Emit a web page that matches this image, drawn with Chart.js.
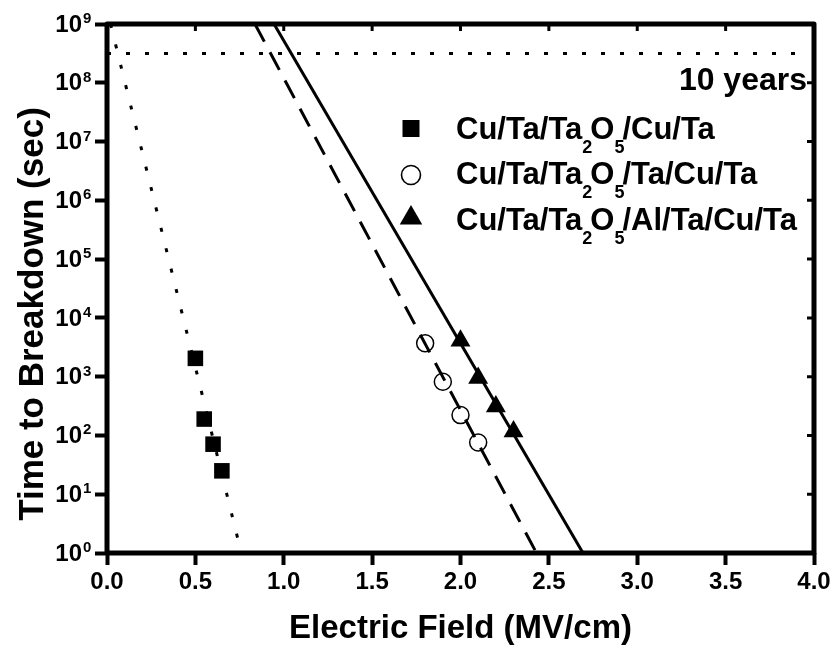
<!DOCTYPE html>
<html><head><meta charset="utf-8">
<script src="https://cdn.jsdelivr.net/npm/chart.js@4.4.1/dist/chart.umd.min.js"></script>
<style>html,body{margin:0;padding:0;background:#fff}#wrap{width:837px;height:651px}</style>
</head><body><div id="wrap"><canvas id="c" width="837" height="651"></canvas></div>
<script>
const FONT = '"Liberation Sans", Arial, Helvetica, sans-serif';

// ---- measured points ----
const sqField = [0.50, 0.55, 0.60, 0.65];
const sqTime  = [2050, 190, 71, 25];
const ciField = [1.80, 1.90, 2.00, 2.10];
const ciTime  = [3700, 820, 222, 76];
const trField = [2.00, 2.10, 2.20, 2.30];
const trTime  = [4100, 950, 310, 117];

// ---- fitted lines (end points) ----
const fitSqField = [0.02, 0.76];
const fitSqTime  = [1e9, 1];
const fitCiField = [0.837, 2.43];
const fitCiTime  = [1e9, 1];
const fitTrField = [0.945, 2.693];
const fitTrTime  = [1e9, 1];
const tenYearsField = [0, 3.9];
const tenYearsTime  = [3.15e8, 3.15e8];

// ---- ticks / labels ----
const xTickValues = [0, 0.5, 1, 1.5, 2, 2.5, 3, 3.5, 4];
const yExponents = [0, 1, 2, 3, 4, 5, 6, 7, 8, 9];
const legendLabels = ['Cu/Ta/Ta_2O_5/Cu/Ta', 'Cu/Ta/Ta_2O_5/Ta/Cu/Ta', 'Cu/Ta/Ta_2O_5/Al/Ta/Cu/Ta'];
const xTitle = 'Electric Field (MV/cm)';
const yTitle = 'Time to Breakdown (sec)';
const tenYearsLabel = '10 years';

const pts = (xs, ys) => xs.map((x, i) => ({x: x, y: ys[i]}));

function richText(ctx, str, x, y, size, subSize, drop) {
  const parts = str.split(/(_\d)/).filter(p => p.length);
  for (const p of parts) {
    if (p[0] === '_') {
      ctx.font = 'bold ' + subSize + 'px ' + FONT;
      ctx.fillText(p[1], x, y + drop);
      x += ctx.measureText(p[1]).width * 0.8;
    } else {
      ctx.font = 'bold ' + size + 'px ' + FONT;
      ctx.fillText(p, x, y);
      x += ctx.measureText(p).width;
    }
  }
}

const decorPlugin = {
  id: 'decor',
  afterDraw(chart) {
    const ctx = chart.ctx;
    const a = chart.chartArea;
    const xs = chart.scales.x, ys = chart.scales.y;
    ctx.save();
    ctx.fillStyle = '#000';
    ctx.strokeStyle = '#000';
    // frame
    ctx.lineWidth = 5;
    ctx.lineJoin = 'round';
    ctx.strokeRect(a.left, a.top, a.right - a.left, a.bottom - a.top);
    // mirror ticks
    ctx.lineWidth = 3;
    ctx.beginPath();
    for (const v of xTickValues) {
      const px = xs.getPixelForValue(v);
      ctx.moveTo(px, a.top); ctx.lineTo(px, a.top + 7);
    }
    for (const e of yExponents) {
      const py = ys.getPixelForValue(Math.pow(10, e));
      ctx.moveTo(a.right, py); ctx.lineTo(a.right - 7, py);
    }
    ctx.stroke();
    // y tick labels 10^n
    for (const e of yExponents) {
      const py = ys.getPixelForValue(Math.pow(10, e));
      ctx.font = 'bold 24px ' + FONT;
      ctx.textAlign = 'right';
      ctx.textBaseline = 'middle';
      ctx.fillText('10', 82, py + 1);
      ctx.font = 'bold 15px ' + FONT;
      ctx.textAlign = 'left';
      ctx.textBaseline = 'alphabetic';
      ctx.fillText(String(e), 83, py - 1);
    }
    // axis titles
    ctx.font = 'bold 33px ' + FONT;
    ctx.textAlign = 'center';
    ctx.textBaseline = 'alphabetic';
    ctx.fillText(xTitle, (a.left + a.right) / 2, 638);
    ctx.save();
    ctx.translate(43, 314);
    ctx.rotate(-Math.PI / 2);
    ctx.font = 'bold 35px ' + FONT;
    ctx.fillText(yTitle, 0, 0);
    ctx.restore();
    // 10 years
    ctx.font = 'bold 32px ' + FONT;
    ctx.textAlign = 'right';
    ctx.fillText(tenYearsLabel, 807, 90);
    // legend
    const mx = 411;
    const rowBase = [139, 184, 230];
    // square
    ctx.fillRect(mx - 8.5, 128.5 - 8.5, 17, 17);
    // circle
    ctx.lineWidth = 1.6;
    ctx.beginPath(); ctx.arc(mx, 175, 9.5, 0, Math.PI * 2); ctx.stroke();
    // triangle
    const r = 13;
    ctx.beginPath();
    ctx.moveTo(mx, 218 - r);
    ctx.lineTo(mx + r * Math.sin(Math.PI * 2 / 3), 218 - r * Math.cos(Math.PI * 2 / 3));
    ctx.lineTo(mx + r * Math.sin(Math.PI * 4 / 3), 218 - r * Math.cos(Math.PI * 4 / 3));
    ctx.closePath(); ctx.fill();
    ctx.textAlign = 'left';
    legendLabels.forEach((t, i) => richText(ctx, t, 456, rowBase[i], 31, 18, 14));
    ctx.restore();
  }
};

new Chart(document.getElementById('c'), {
  type: 'scatter',
  data: {
    datasets: [
      {label: 'sq', data: pts(sqField, sqTime), pointStyle: 'rect', pointRadius: 11, pointHoverRadius: 11,
       backgroundColor: '#000', borderColor: '#000', borderWidth: 0, showLine: false},
      {label: 'ci', data: pts(ciField, ciTime), pointStyle: 'circle', pointRadius: 8.5, pointHoverRadius: 8.5,
       backgroundColor: 'rgba(0,0,0,0)', borderColor: '#000', borderWidth: 1.5, showLine: false},
      {label: 'tr', data: pts(trField, trTime), pointStyle: 'triangle', pointRadius: 11.5, pointHoverRadius: 11.5,
       backgroundColor: '#000', borderColor: '#000', borderWidth: 0, showLine: false},
      {label: 'fitSq', data: pts(fitSqField, fitSqTime), showLine: true, pointRadius: 0, borderColor: '#000',
       borderWidth: 3, borderDash: [4, 17], fill: false},
      {label: 'fitCi', data: pts(fitCiField, fitCiTime), showLine: true, pointRadius: 0, borderColor: '#000',
       borderWidth: 3, borderDash: [20, 12], fill: false},
      {label: 'fitTr', data: pts(fitTrField, fitTrTime), showLine: true, pointRadius: 0, borderColor: '#000',
       borderWidth: 3, fill: false},
      {label: '10y', data: pts(tenYearsField, tenYearsTime), showLine: true, pointRadius: 0, borderColor: '#000',
       borderWidth: 3, borderDash: [4, 15], fill: false}
    ]
  },
  options: {
    responsive: false,
    animation: false,
    devicePixelRatio: 1,
    layout: {padding: {left: 0, top: 24, right: 23, bottom: 0}},
    plugins: {legend: {display: false}, tooltip: {enabled: false}},
    scales: {
      x: {
        type: 'linear', min: 0, max: 4,
        afterBuildTicks: s => { s.ticks = xTickValues.map(v => ({value: v})); },
        ticks: {callback: v => Number(v).toFixed(1), font: {family: FONT, size: 24, weight: 'bold'}, color: '#000',
                padding: 3, maxRotation: 0, autoSkip: false},
        grid: {display: true, drawOnChartArea: false, drawTicks: true, tickLength: 12, tickWidth: 4, tickColor: '#000', color: '#000'},
        border: {display: false},
        afterFit: s => { s.height = 98; s.paddingLeft = 0; s.paddingRight = 0; }
      },
      y: {
        type: 'logarithmic', min: 1, max: 1e9,
        afterBuildTicks: s => { s.ticks = yExponents.map(e => ({value: Math.pow(10, e), major: true})); },
        ticks: {display: false},
        grid: {display: true, drawOnChartArea: false, drawTicks: true, tickLength: 12, tickWidth: 4, tickColor: '#000', color: '#000'},
        border: {display: false},
        afterFit: s => { s.width = 107; s.paddingTop = 0; s.paddingBottom = 0; }
      }
    }
  },
  plugins: [decorPlugin]
});
</script>
</body></html>
